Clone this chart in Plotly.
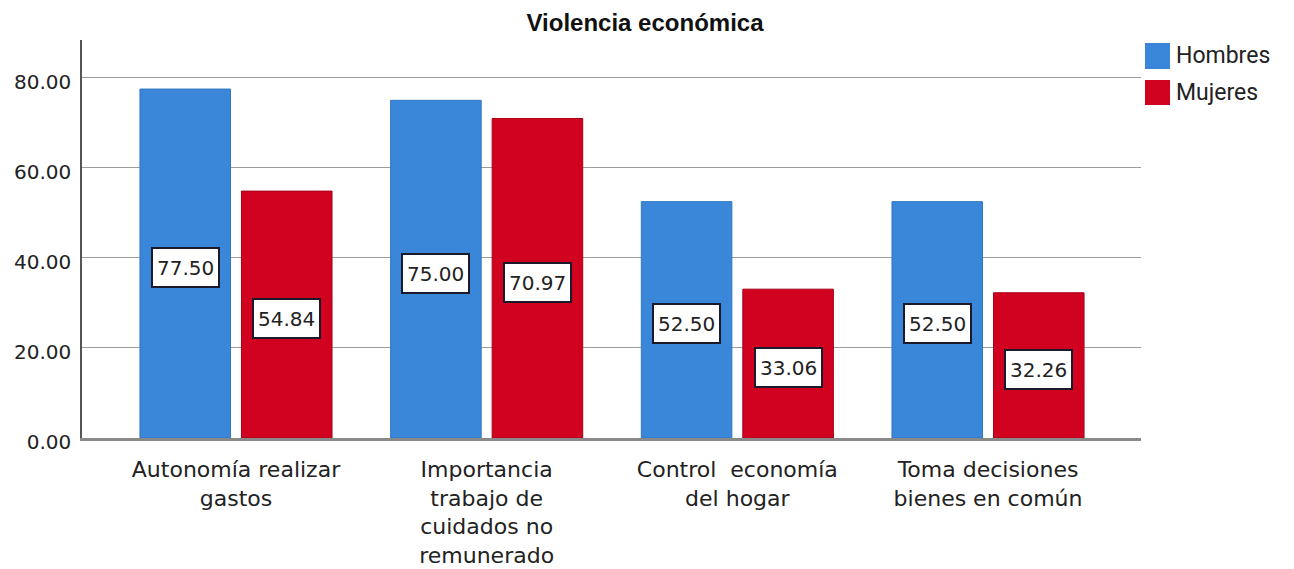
import plotly.graph_objects as go

categories = ["Autonomía realizar<br>gastos",
              "Importancia<br>trabajo de<br>cuidados no<br>remunerado",
              "Control  economía<br>del hogar",
              "Toma decisiones<br>bienes en común"]
series_names = ["Hombres", "Mujeres"]
hombres = [77.50, 75.00, 52.50, 52.50]
mujeres = [54.84, 70.97, 33.06, 32.26]
y_ticks = [0, 20, 40, 60, 80]
title_text = "Violencia económica"

colors = ["#3a86d8", "#d0021f"]
line_colors = ["#3278c4", "#a8001a"]
BARGAP = 0.19
BARGROUPGAP = 0.108

# page has an 8px body margin; figure extends to the window's right/bottom edges
OFF = 8
W, H = 1294 - OFF, 569 - OFF
PL, PR, PT, PB = 82, 1141, 40, 438          # plot area in window pixels
L, T = PL - OFF, PT - OFF
R = OFF + W - PR
B = OFF + H - PB
pw = PR - PL
ph = PB - PT

xs = list(range(len(categories)))
fig = go.Figure()
for name, vals, c, lc in zip(series_names, [hombres, mujeres], colors, line_colors):
    fig.add_trace(go.Bar(x=xs, y=vals, name=name, marker_color=c,
                         marker_line=dict(color=lc, width=1), showlegend=False))

# value labels in white boxes, centred in each bar
off = (1 - BARGAP) / 4
for k, vals in enumerate([hombres, mujeres]):
    sgn = -1 if k == 0 else 1
    for i, v in enumerate(vals):
        fig.add_annotation(x=i + sgn * off, y=v / 2, text=f"{v:.2f}", showarrow=False,
                           xref="x", yref="y", yshift=-4, height=29,
                           font=dict(family="DejaVu Sans", size=20, color="#222222"),
                           bgcolor="white", bordercolor="#1a1a2a", borderwidth=2, borderpad=4)

# manual legend with larger swatches
def px_x(p):
    return (p - PL) / pw
def px_y(p):
    return (PB - p) / ph

leg = [(43, 69, 56), (80, 105, 92)]
for (y0, y1, yc), name, c in zip(leg, series_names, colors):
    fig.add_shape(type="rect", xref="paper", yref="paper",
                  x0=px_x(1145), x1=px_x(1170), y0=px_y(y1), y1=px_y(y0),
                  fillcolor=c, line=dict(width=0))
    fig.add_annotation(xref="paper", yref="paper", x=px_x(1174), y=px_y(yc),
                       xanchor="left", yanchor="middle", text=name, showarrow=False,
                       font=dict(family="Roboto", size=23, color="#222222"))

fig.update_layout(
    width=W, height=H,
    margin=dict(l=L, r=R, t=T, b=B, autoexpand=False),
    paper_bgcolor="white", plot_bgcolor="white",
    barmode="group", bargap=BARGAP, bargroupgap=BARGROUPGAP,
    title=dict(text="<b>" + title_text + "</b>", x=px_x(645), xref="paper", xanchor="center",
               y=1 - (23 - OFF) / H, yref="container", yanchor="middle",
               font=dict(family="Liberation Sans", size=24, color="#111111")),
    xaxis=dict(range=[-0.6143, 3.6103], tickmode="array", tickvals=xs, ticktext=categories,
               showgrid=False, zeroline=False, showline=True, linecolor="#8a8a8a", linewidth=2.5,
               ticks="", ticklabelstandoff=10, automargin=False,
               tickfont=dict(family="DejaVu Sans", size=22, color="#222222")),
    yaxis=dict(range=[0, 88.4], tickmode="array", tickvals=y_ticks,
               ticktext=[f"{t:.2f}" for t in y_ticks],
               showgrid=True, gridcolor="#9c9c9c", gridwidth=1.3, zeroline=False,
               showline=True, linecolor="#555555", linewidth=1.5, ticks="",
               ticklabelstandoff=5, ticklabelshift=4, automargin=False,
               tickfont=dict(family="DejaVu Sans", size=20, color="#222222")),
)

fig.write_html("out.html")
